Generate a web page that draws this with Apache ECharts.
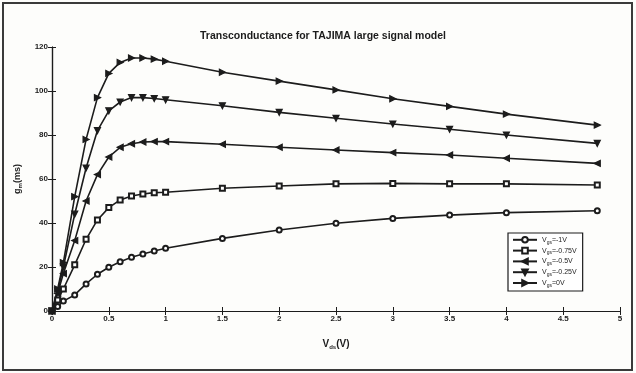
<!DOCTYPE html>
<html><head><meta charset="utf-8">
<script src="https://cdn.jsdelivr.net/npm/echarts@6/dist/echarts.min.js"></script>
<style>html,body{margin:0;padding:0;background:#fdfdfb;}#c{width:636px;height:373px;}</style>
</head><body><div id="c"></div>
<script>
const xValues = [0, 0.05, 0.1, 0.2, 0.3, 0.4, 0.5, 0.6, 0.7, 0.8, 0.9, 1.0, 1.5, 2.0, 2.5, 3.0, 3.5, 4.0, 4.8];
const gmVgs0 = [0, 10, 22, 52, 78, 97, 108, 113, 115, 115, 114.5, 113.5, 108.5, 104.5, 100.5, 96.5, 93, 89.5, 84.5];
const gmVgsM025 = [0, 9, 20, 44, 65, 82, 91, 95, 97, 97, 96.6, 96, 93.3, 90.3, 87.6, 85, 82.6, 80, 76.2];
const gmVgsM05 = [0, 8, 17, 32, 50, 62, 70, 74.4, 76, 76.8, 77, 77, 75.8, 74.4, 73.2, 72, 70.9, 69.4, 67.1];
const gmVgsM075 = [0, 5, 10, 21, 32.6, 41.4, 47, 50.5, 52.3, 53.2, 53.8, 54, 55.8, 56.8, 57.8, 58, 57.8, 57.8, 57.3];
const gmVgsM1 = [0, 2, 4.5, 7.3, 12.3, 16.7, 19.9, 22.4, 24.4, 25.9, 27.3, 28.5, 33, 36.8, 39.9, 42.1, 43.6, 44.7, 45.6];
const seriesNames = ['V{s|gs}=-1V', 'V{s|gs}=-0.75V', 'V{s|gs}=-0.5V', 'V{s|gs}=-0.25V', 'V{s|gs}=0V'];
const xTicks = [0, 0.5, 1, 1.5, 2, 2.5, 3, 3.5, 4, 4.5, 5];
const yTicks = [0, 20, 40, 60, 80, 100, 120];

const FONT = '"Liberation Sans", Arial, sans-serif';
const INK = '#1c1c1c';
const pair = arr => xValues.map((x, i) => [x, arr[i]]);
const seriesData = [gmVgsM1, gmVgsM075, gmVgsM05, gmVgsM025, gmVgs0];
const symbols = ['emptyCircle', 'emptyRect', 'triangle', 'triangle', 'triangle'];
const rotates = [0, 0, 90, 180, -90];

const chart = echarts.init(document.getElementById('c'), null, {renderer: 'canvas'});
const axisCommon = {
  type: 'value', min: 0,
  axisLine: {lineStyle: {color: INK, width: 1.2}},
  axisTick: {inside: true, length: 4, lineStyle: {color: INK}},
  splitLine: {show: false}
};
chart.setOption({
  backgroundColor: '#fdfdfb',
  animation: false,
  graphic: [{type: 'rect', shape: {x: 3, y: 3, width: 629, height: 367}, style: {fill: 'none', stroke: '#3a3a3a', lineWidth: 2}, z: 100}],
  title: {text: 'Transconductance for TAJIMA large signal model', left: 318, top: 26, textAlign: 'center',
    textStyle: {fontFamily: FONT, fontSize: 10.5, fontWeight: 'bold', color: INK}},
  grid: {left: 52, right: 16, top: 47, bottom: 62},
  xAxis: [
    Object.assign({}, axisCommon, {max: 5, interval: 0.5, name: 'V{s|ds}(V)', nameLocation: 'middle', nameGap: 27,
      nameTextStyle: {fontFamily: FONT, fontSize: 10, fontWeight: 'bold', color: INK,
        rich: {s: {fontSize: 6, fontWeight: 'bold', verticalAlign: 'bottom', padding: [6, 0, 0, 0]}}},
      axisLabel: {fontFamily: FONT, fontSize: 8, fontWeight: 'bold', color: INK, margin: 4,
        formatter: v => xTicks.includes(v) ? String(v) : ''}}),
    Object.assign({}, axisCommon, {max: 5, interval: 0.5, position: 'top', axisLabel: {show: false}})
  ],
  yAxis: [
    Object.assign({}, axisCommon, {max: 120, interval: 20, name: 'g{s|m}(ms)', nameLocation: 'middle', nameGap: 28, nameRotate: 90,
      nameTextStyle: {fontFamily: FONT, fontSize: 9, fontWeight: 'bold', color: INK,
        rich: {s: {fontSize: 6, fontWeight: 'bold', padding: [6, 0, 0, 0]}}},
      axisLabel: {fontFamily: FONT, fontSize: 8, fontWeight: 'bold', color: INK, margin: 4,
        formatter: v => yTicks.includes(v) ? String(v) : ''}}),
    Object.assign({}, axisCommon, {max: 120, interval: 20, position: 'right', axisLabel: {show: false}})
  ],
  legend: {
    orient: 'vertical', left: 508, top: 233, itemGap: 2, itemWidth: 24, itemHeight: 7,
    padding: [3, 6, 3, 4], backgroundColor: '#ffffff', borderColor: INK, borderWidth: 1.2,
    textStyle: {fontFamily: FONT, fontSize: 7, color: INK,
      rich: {s: {fontSize: 5, padding: [5, 0, 0, 0]}}},
    data: seriesNames
  },
  series: seriesData.map((arr, i) => ({
    name: seriesNames[i], type: 'line', data: pair(arr),
    symbol: symbols[i], symbolRotate: rotates[i], symbolSize: i < 2 ? 5 : 6,
    showAllSymbol: true,
    lineStyle: {color: INK, width: 1.6},
    itemStyle: {color: INK, borderColor: INK, borderWidth: 1.2}
  }))
});
</script></body></html>
